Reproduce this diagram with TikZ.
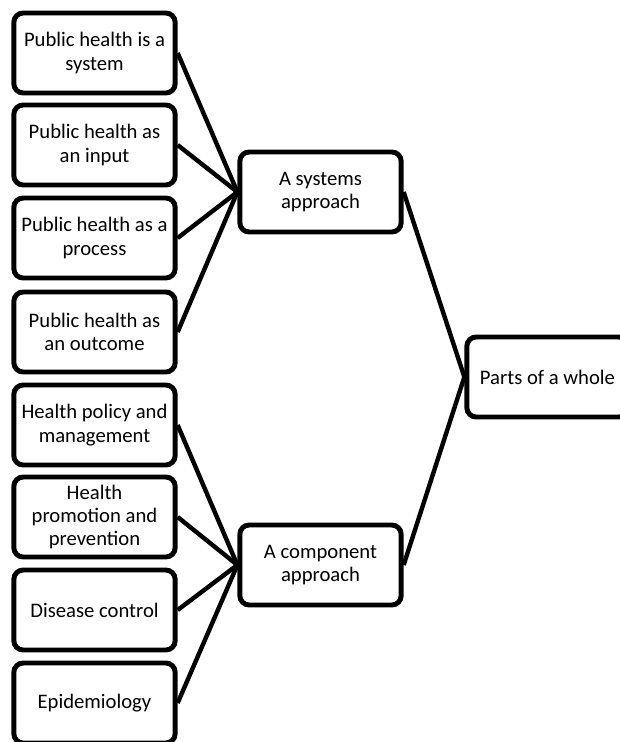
\documentclass[tikz,border=0pt]{standalone}
\usepackage{fontspec}
\setmainfont{Carlito}
\usetikzlibrary{positioning}
\tikzset{
    partnode/.style = {rectangle, rounded corners=7pt, line width=3.7pt, draw=black, align=center, fill=white, minimum width=121pt, minimum height=60pt, inner sep=1pt, font=\fontsize{15.5}{17.5}\selectfont, text=black},
    edgen/.style = {-, line width=3.3pt, black},
}
\begin{document}
\begin{tikzpicture}[x=0.75pt,y=-0.75pt]
\useasboundingbox (0,0) rectangle (619,742);

\node[partnode] at ( 94.5,  53) (s1) {Public health is a\\system};
\node[partnode] at ( 94.5, 145) (s2) {Public health as\\an input};
\node[partnode] at ( 94.5, 238) (s3) {Public health as a\\process};
\node[partnode] at ( 94.5, 332) (s4) {Public health as\\an outcome};
\node[partnode] at ( 94.5, 425) (c1) {Health policy and\\management};
\node[partnode] at ( 94.5, 517) (c2) {Health\\promotion and\\prevention};
\node[partnode] at ( 94.5, 610) (c3) {Disease control};
\node[partnode] at ( 94.5, 703) (c4) {Epidemiology};

\node[partnode] at (320.5, 192) (sys) {A systems\\approach};
\node[partnode] at (320.5, 565) (comp) {A component\\approach};
\node[partnode] at (547.5, 377) (parts) {Parts of a whole};

\draw[edgen] (s1.east) -- (sys.west);
\draw[edgen] (s2.east) -- (sys.west);
\draw[edgen] (s3.east) -- (sys.west);
\draw[edgen] (s4.east) -- (sys.west);
\draw[edgen] (c1.east) -- (comp.west);
\draw[edgen] (c2.east) -- (comp.west);
\draw[edgen] (c3.east) -- (comp.west);
\draw[edgen] (c4.east) -- (comp.west);
\draw[edgen] (sys.east) -- (parts.west);
\draw[edgen] (comp.east) -- (parts.west);

\end{tikzpicture}
\end{document}
